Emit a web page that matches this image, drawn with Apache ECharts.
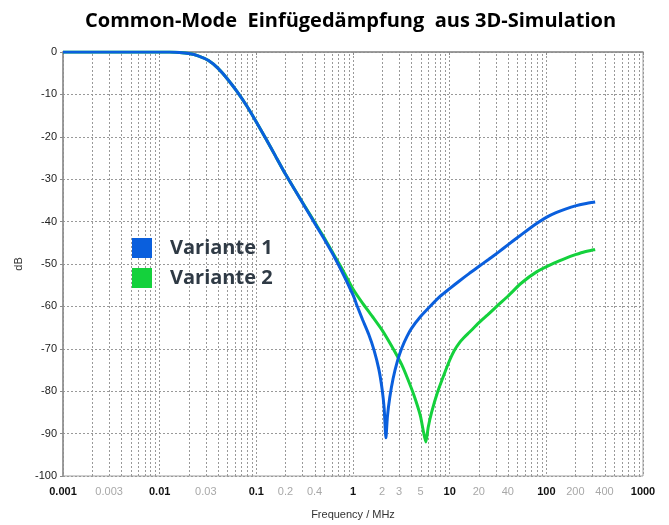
<!DOCTYPE html>
<html><head><meta charset="utf-8">
<script src="https://cdn.jsdelivr.net/npm/echarts@6/dist/echarts.min.js"></script>
<style>html,body{margin:0;padding:0;background:#fff}#c{width:669px;height:525px}</style>
</head><body><div id="c"></div>
<script>
const chartTitle = 'Common-Mode  Einfügedämpfung  aus 3D-Simulation';
const seriesNames = ['Variante 1', 'Variante 2'];

const freq1 = [0.001, 0.005, 0.01, 0.0126, 0.016, 0.02, 0.025, 0.032, 0.04, 0.05, 0.063, 0.08, 0.1, 0.126, 0.16, 0.2, 0.25, 0.32, 0.4, 0.5, 0.63, 0.8, 1.0, 1.05, 1.1, 1.26, 1.45, 1.65, 1.85, 2.0, 2.1, 2.19, 2.27, 2.4, 2.6, 2.89, 3.2, 3.6, 4.0, 5.0, 6.4, 8.0, 10, 12.6, 16, 20, 25, 32, 40, 50, 63, 80, 100, 126, 160, 200, 250, 320];
const db1   = [0, 0, 0, -0.02, -0.1, -0.35, -0.9, -2.0, -3.8, -6.3, -9.3, -12.8, -16.5, -20.5, -24.8, -28.8, -32.5, -36.6, -40.3, -44, -48, -52.6, -57.3, -58.5, -59.8, -63.2, -66.5, -70.3, -74.8, -79.5, -84, -91, -86, -81.5, -77, -72.8, -69.8, -67.2, -65.3, -62.4, -59.8, -57.6, -55.8, -54, -52.2, -50.6, -49, -47.2, -45.5, -43.8, -42.1, -40.4, -39, -37.9, -37, -36.3, -35.8, -35.4];

const freq2 = [0.001, 0.005, 0.01, 0.0126, 0.016, 0.02, 0.025, 0.032, 0.04, 0.05, 0.063, 0.08, 0.1, 0.126, 0.16, 0.2, 0.25, 0.32, 0.4, 0.5, 0.63, 0.8, 1.0, 1.26, 1.6, 2.0, 2.5, 3.2, 4.0, 4.5, 5.0, 5.35, 5.67, 6.0, 6.5, 7.5, 8.77, 10, 11.1, 12.6, 14, 16, 20, 24.7, 32, 40, 54.5, 80, 120, 160, 200, 250, 320];
const db2   = [0, 0, 0, -0.02, -0.1, -0.35, -0.9, -2.0, -3.8, -6.3, -9.3, -12.8, -16.5, -20.5, -24.8, -28.8, -32.5, -36.5, -40.1, -43.7, -47.7, -51.8, -55.9, -59.3, -62.5, -65.6, -69.3, -73.8, -79.2, -82.5, -86, -89.5, -92, -88.5, -85, -80.2, -76, -72.7, -70.5, -68.6, -67.4, -66.1, -63.9, -62, -59.6, -57.6, -54.6, -51.8, -49.8, -48.6, -47.8, -47.1, -46.6];

const decadeStarts = [0.001, 0.01, 0.1, 1, 10, 100];
const minorMultipliers = [2, 3, 4, 5, 6, 7, 8, 9];
const minorLabelValues = [0.003, 0.03, 0.2, 0.4, 2, 3, 5, 20, 40, 200, 400];
const minorLabelTexts  = ['0.003', '0.03', '0.2', '0.4', '2', '3', '5', '20', '40', '200', '400'];
const yMin = -100, yMax = 0;

const colors = ['#0a5fdd', '#14d13c'];
const gridColor = '#999999';
const dotPattern = [2, 2];

function toPairs(fs, vs) { return fs.map((f, i) => [f, vs[i]]); }

const minorValues = [];
const minorTexts = [];
decadeStarts.forEach(d => minorMultipliers.forEach(m => {
  const v = +(m * d).toPrecision(3);
  const idx = minorLabelValues.findIndex(x => Math.abs(x - v) < 1e-9);
  minorValues.push(v);
  minorTexts.push(idx >= 0 ? minorLabelTexts[idx] : '');
}));

function fmtDecade(v) { return String(+v.toPrecision(1)); }

const chart = echarts.init(document.getElementById('c'), null, { renderer: 'canvas' });
chart.setOption({
  animation: false,
  backgroundColor: '#fff',
  title: {
    text: chartTitle, left: 80, top: 6,
    textStyle: { fontFamily: 'Open Sans', fontWeight: 'bold', fontSize: 20, color: '#000' }
  },
  legend: {
    data: seriesNames, orient: 'vertical', left: 127, top: 233,
    itemWidth: 20, itemHeight: 20, itemGap: 10, icon: 'rect',
    textStyle: { fontFamily: 'Open Sans', fontWeight: 'bold', fontSize: 20, lineHeight: 20, color: '#2f3a45', padding: [0, 0, 0, 13] }
  },
  grid: { left: 63, right: 26, top: 52, bottom: 42, show: true, borderColor: '#a0a0a0', borderWidth: 1 },
  xAxis: {
    type: 'log', logBase: 10, min: 0.001, max: 1000,
    name: 'Frequency / MHz', nameLocation: 'middle', nameGap: 33,
    nameTextStyle: { fontFamily: 'Liberation Sans', fontSize: 11, color: '#333' },
    axisLine: { lineStyle: { color: '#8c8c8c', width: 1.5 } },
    axisTick: { show: true, length: 3, lineStyle: { color: '#8c8c8c' } },
    axisLabel: { fontFamily: 'Liberation Sans', fontWeight: 'bold', fontSize: 11, color: '#111', margin: 10, formatter: fmtDecade },
    splitLine: { show: true, lineStyle: { type: dotPattern, color: gridColor, width: 1 } }
  },
  yAxis: {
    type: 'value', min: yMin, max: yMax, interval: 10,
    name: 'dB', nameLocation: 'middle', nameGap: 36,
    nameTextStyle: { fontFamily: 'Liberation Sans', fontSize: 11, color: '#333' },
    axisLine: { show: true, lineStyle: { color: '#8c8c8c', width: 1.5 } },
    axisTick: { show: true, length: 3, lineStyle: { color: '#8c8c8c' } },
    axisLabel: { fontFamily: 'Liberation Sans', fontSize: 11, color: '#222', margin: 6 },
    splitLine: { show: true, lineStyle: { type: dotPattern, color: gridColor, width: 1 } }
  },
  series: [
    {
      name: 'grid-minor', type: 'custom', silent: true, clip: false, z: 1,
      encode: { x: 0, y: 1 },
      data: minorValues.map(v => [v, yMin]),
      renderItem: function (params, api) {
        const v = api.value(0);
        const bot = api.coord([v, yMin]);
        const top = api.coord([v, yMax]);
        const x = Math.round(bot[0]) + 0.5;
        const children = [{
          type: 'line', silent: true,
          shape: { x1: x, y1: bot[1], x2: x, y2: top[1] },
          style: { stroke: gridColor, lineWidth: 1, lineDash: dotPattern }
        }];
        const t = minorTexts[params.dataIndex];
        if (t) {
          children.push({
            type: 'text', silent: true,
            style: {
              text: t, x: bot[0], y: bot[1] + 10, align: 'center', verticalAlign: 'top',
              fill: '#a8a8a8', font: '11px "Liberation Sans"'
            }
          });
        }
        return { type: 'group', children: children };
      }
    },
    {
      name: seriesNames[1], type: 'line', data: toPairs(freq2, db2), showSymbol: false,
      smooth: 0.2, lineStyle: { color: colors[1], width: 3 }, itemStyle: { color: colors[1] }, z: 3
    },
    {
      name: seriesNames[0], type: 'line', data: toPairs(freq1, db1), showSymbol: false,
      smooth: 0.2, lineStyle: { color: colors[0], width: 3 }, itemStyle: { color: colors[0] }, z: 4
    }
  ]
});
</script>
</body></html>
